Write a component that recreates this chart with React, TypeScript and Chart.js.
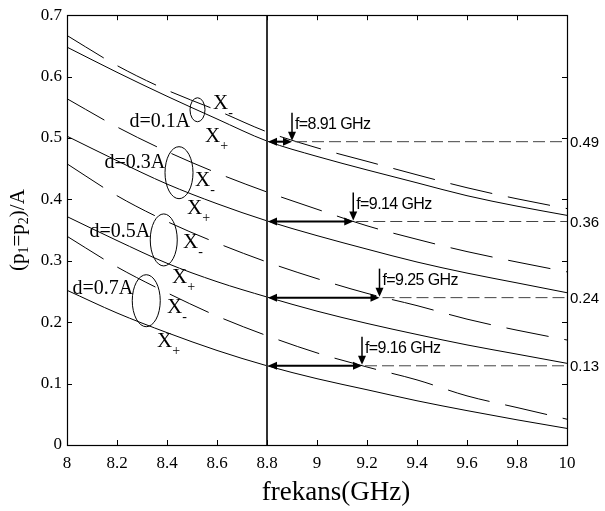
import React, { useEffect, useRef } from "react";
import { Chart, registerables } from "chart.js";
Chart.register(...registerables);

// ---- data ----
const freq = [8.0, 8.2, 8.4, 8.6, 8.8, 9.0, 9.2, 9.4, 9.6, 9.8, 10.0];
const d01Minus = [0.667, 0.618, 0.578, 0.545, 0.510, 0.484, 0.462, 0.440, 0.419, 0.401, 0.385];
const d01Plus = [0.648, 0.607, 0.568, 0.531, 0.495, 0.470, 0.448, 0.427, 0.406, 0.389, 0.374];
const d03Minus = [0.564, 0.518, 0.478, 0.443, 0.412, 0.384, 0.357, 0.335, 0.315, 0.298, 0.282];
const d03Plus = [0.503, 0.463, 0.425, 0.393, 0.365, 0.341, 0.319, 0.298, 0.280, 0.264, 0.248];
const d05Minus = [0.458, 0.406, 0.364, 0.329, 0.298, 0.271, 0.247, 0.227, 0.205, 0.187, 0.171];
const d05Plus = [0.372, 0.333, 0.296, 0.266, 0.241, 0.218, 0.198, 0.180, 0.163, 0.148, 0.133];
const d07Minus = [0.340, 0.290, 0.248, 0.210, 0.178, 0.150, 0.127, 0.106, 0.080, 0.061, 0.042];
const d07Plus = [0.252, 0.215, 0.183, 0.154, 0.129, 0.108, 0.090, 0.072, 0.056, 0.041, 0.027];

const refFreq = 8.8;
const levels = [0.494, 0.364, 0.240, 0.129];
const levelLabels = ["0.49", "0.36", "0.24", "0.13"];
const fMarks = [8.9, 9.145, 9.25, 9.18];
const fLabels = ["f=8.91 GHz", "f=9.14 GHz", "f=9.25 GHz", "f=9.16 GHz"];
const dLabels = ["d=0.1A", "d=0.3A", "d=0.5A", "d=0.7A"];

const xTicks = [8, 8.2, 8.4, 8.6, 8.8, 9, 9.2, 9.4, 9.6, 9.8, 10];
const yTicks = [0, 0.1, 0.2, 0.3, 0.4, 0.5, 0.6, 0.7];
const rightTicks = [0.1, 0.2, 0.3, 0.4, 0.5, 0.6];

// ---- annotation layout (data units) ----
const dLabelPos = [
  { x: 8.493, y: 0.526 },
  { x: 8.393, y: 0.4595 },
  { x: 8.333, y: 0.3475 },
  { x: 8.265, y: 0.2543 },
];
const ellipsePos = [
  { x: 8.522, y: 0.546, rx: 7.5, ry: 12 },
  { x: 8.448, y: 0.4435, rx: 14, ry: 26 },
  { x: 8.387, y: 0.334, rx: 13.5, ry: 26 },
  { x: 8.317, y: 0.235, rx: 14, ry: 26 },
];
const xMinusPos = [
  { x: 8.584, y: 0.557 },
  { x: 8.512, y: 0.431 },
  { x: 8.464, y: 0.33 },
  { x: 8.4, y: 0.224 },
];
const xPlusPos = [
  { x: 8.552, y: 0.503 },
  { x: 8.48, y: 0.386 },
  { x: 8.42, y: 0.273 },
  { x: 8.36, y: 0.169 },
];

const SERIF = "'Liberation Serif', 'Times New Roman', serif";
const SANS = "'Liberation Sans', Arial, sans-serif";

function toPts(ys: number[]) {
  return freq.map((x, i) => ({ x, y: ys[i] }));
}

function arrowHead(ctx: CanvasRenderingContext2D, tx: number, ty: number, dx: number, dy: number, len = 9, half = 4) {
  const px = -dy, py = dx;
  ctx.beginPath();
  ctx.moveTo(tx, ty);
  ctx.lineTo(tx - dx * len + px * half, ty - dy * len + py * half);
  ctx.lineTo(tx - dx * len - px * half, ty - dy * len - py * half);
  ctx.closePath();
  ctx.fill();
}

const decorPlugin = {
  id: "decor",
  afterDatasetsDraw(chart: any) {
    const ctx: CanvasRenderingContext2D = chart.ctx;
    const xs = chart.scales.x;
    const ys = chart.scales.y;
    const { left, right, top, bottom } = chart.chartArea;
    ctx.save();

    // reference vertical line
    const xr = xs.getPixelForValue(refFreq);
    ctx.strokeStyle = "#333";
    ctx.lineWidth = 2;
    ctx.beginPath();
    ctx.moveTo(xr, top);
    ctx.lineTo(xr, bottom);
    ctx.stroke();

    // frame
    ctx.strokeStyle = "#000";
    ctx.lineWidth = 1.2;
    ctx.strokeRect(Math.round(left) + 0.5, Math.round(top) + 0.5, Math.round(right - left), Math.round(bottom - top));

    // inward ticks
    const tl = 5;
    ctx.lineWidth = 1;
    ctx.beginPath();
    xTicks.forEach((v) => {
      if (v === 8 || v === 10) return;
      const px = Math.round(xs.getPixelForValue(v)) + 0.5;
      ctx.moveTo(px, bottom);
      ctx.lineTo(px, bottom - tl);
      ctx.moveTo(px, top);
      ctx.lineTo(px, top + tl);
    });
    yTicks.forEach((v) => {
      if (v === 0 || v === 0.7) return;
      const py = Math.round(ys.getPixelForValue(v)) + 0.5;
      ctx.moveTo(left, py);
      ctx.lineTo(left + tl, py);
    });
    rightTicks.forEach((v) => {
      const py = Math.round(ys.getPixelForValue(v)) + 0.5;
      ctx.moveTo(right, py);
      ctx.lineTo(right - tl, py);
    });
    ctx.stroke();

    // levels, arrows, labels
    levels.forEach((lv, i) => {
      const py = ys.getPixelForValue(lv);
      const fx = xs.getPixelForValue(fMarks[i]);
      // dashed level line
      ctx.save();
      ctx.strokeStyle = "#444";
      ctx.lineWidth = 1;
      ctx.setLineDash([12, 5]);
      ctx.beginPath();
      ctx.moveTo(fx + 3, py);
      ctx.lineTo(right, py);
      ctx.stroke();
      ctx.restore();
      // double arrow
      ctx.fillStyle = "#000";
      ctx.strokeStyle = "#000";
      ctx.lineWidth = 2;
      ctx.beginPath();
      ctx.moveTo(xr + 6, py);
      ctx.lineTo(fx - 6, py);
      ctx.stroke();
      arrowHead(ctx, xr + 1, py, -1, 0, 9, 4);
      arrowHead(ctx, fx, py, 1, 0, 9, 4);
      // down arrow
      ctx.lineWidth = 1.5;
      ctx.beginPath();
      ctx.moveTo(fx, py - 29);
      ctx.lineTo(fx, py - 6);
      ctx.stroke();
      arrowHead(ctx, fx, py - 1, 0, 1, 9, 4);
      // f label
      ctx.font = `16px ${SANS}`;
      (ctx as any).letterSpacing = "-0.6px";
      ctx.textAlign = "left";
      ctx.textBaseline = "middle";
      ctx.fillText(fLabels[i], fx + 3, py - 17);
      (ctx as any).letterSpacing = "0px";
      // right label
      ctx.font = `15px ${SANS}`;
      ctx.fillText(levelLabels[i], right + 3, py + 1);
    });

    // d annotations
    ctx.lineWidth = 1;
    ctx.strokeStyle = "#000";
    ctx.fillStyle = "#000";
    dLabels.forEach((lab, i) => {
      ctx.font = `20px ${SERIF}`;
      ctx.textAlign = "right";
      ctx.textBaseline = "middle";
      ctx.fillText(lab, xs.getPixelForValue(dLabelPos[i].x), ys.getPixelForValue(dLabelPos[i].y));
      const e = ellipsePos[i];
      ctx.beginPath();
      ctx.ellipse(xs.getPixelForValue(e.x), ys.getPixelForValue(e.y), e.rx, e.ry, 0, 0, Math.PI * 2);
      ctx.stroke();
      const drawX = (p: { x: number; y: number }, sub: string) => {
        const px = xs.getPixelForValue(p.x);
        const py = ys.getPixelForValue(p.y);
        ctx.font = `21px ${SERIF}`;
        ctx.textAlign = "left";
        ctx.textBaseline = "middle";
        ctx.fillText("X", px, py);
        const w = ctx.measureText("X").width;
        ctx.font = `14px ${SERIF}`;
        ctx.fillText(sub, px + w, py + 10);
      };
      drawX(xMinusPos[i], "-");
      drawX(xPlusPos[i], "+");
    });

    // x title
    ctx.font = `27px ${SERIF}`;
    ctx.textAlign = "center";
    ctx.textBaseline = "alphabetic";
    ctx.fillText("frekans(GHz)", (left + right) / 2 + 19, 500);

    // y title with subscripts
    ctx.save();
    ctx.translate(18, (top + bottom) / 2);
    ctx.rotate(-Math.PI / 2);
    const parts = [
      { t: "(p", s: false },
      { t: "1", s: true },
      { t: "=p", s: false },
      { t: "2", s: true },
      { t: ")/A", s: false },
    ];
    const big = `21px ${SERIF}`;
    const small = `14px ${SERIF}`;
    let total = 0;
    parts.forEach((p) => {
      ctx.font = p.s ? small : big;
      total += ctx.measureText(p.t).width;
    });
    let cx = -total / 2;
    ctx.textAlign = "left";
    ctx.textBaseline = "middle";
    parts.forEach((p) => {
      ctx.font = p.s ? small : big;
      ctx.fillText(p.t, cx, p.s ? 6 : 0);
      cx += ctx.measureText(p.t).width;
    });
    ctx.restore();

    ctx.restore();
  },
};

export default function App() {
  const ref = useRef<HTMLCanvasElement | null>(null);
  useEffect(() => {
    if (!ref.current) return;
    const series = [
      { d: d01Minus, dash: true },
      { d: d01Plus, dash: false },
      { d: d03Minus, dash: true },
      { d: d03Plus, dash: false },
      { d: d05Minus, dash: true },
      { d: d05Plus, dash: false },
      { d: d07Minus, dash: true },
      { d: d07Plus, dash: false },
    ];
    const chart = new Chart(ref.current, {
      type: "line",
      data: {
        datasets: series.map((s, i) => ({
          label: `s${i}`,
          data: toPts(s.d),
          borderColor: "#000",
          borderWidth: 1,
          borderDash: s.dash ? [43, 16] : [],
          pointRadius: 0,
          fill: false,
          cubicInterpolationMode: "monotone" as const,
        })),
      },
      options: {
        animation: false,
        responsive: false,
        devicePixelRatio: 1,
        layout: { padding: { top: 9, right: 38, left: 0, bottom: 0 } },
        plugins: { legend: { display: false }, tooltip: { enabled: false }, title: { display: false } },
        scales: {
          x: {
            type: "linear",
            min: 8,
            max: 10,
            grid: { display: false, drawTicks: false },
            border: { display: false },
            afterBuildTicks: (s: any) => {
              s.ticks = xTicks.map((v) => ({ value: v }));
            },
            afterFit: (s: any) => {
              s.height = 66;
            },
            ticks: {
              color: "#000",
              padding: 8,
              maxRotation: 0,
              autoSkip: false,
              font: { family: SERIF, size: 17 },
              callback: (v: any) => String(Math.round(Number(v) * 10) / 10),
            },
          },
          y: {
            type: "linear",
            min: 0,
            max: 0.7,
            grid: { display: false, drawTicks: false },
            border: { display: false },
            afterBuildTicks: (s: any) => {
              s.ticks = yTicks.map((v) => ({ value: v }));
            },
            afterFit: (s: any) => {
              s.width = 67;
            },
            ticks: {
              color: "#000",
              padding: 5,
              autoSkip: false,
              font: { family: SERIF, size: 17 },
              callback: (v: any) => String(Math.round(Number(v) * 10) / 10),
            },
          },
        },
      },
      plugins: [decorPlugin],
    } as any);
    return () => chart.destroy();
  }, []);
  return (
    <div style={{ position: "absolute", left: 0, top: 0, width: 605, height: 511, background: "#fff" }}>
      <canvas ref={ref} width={605} height={511} style={{ display: "block", width: 605, height: 511 }} />
    </div>
  );
}
